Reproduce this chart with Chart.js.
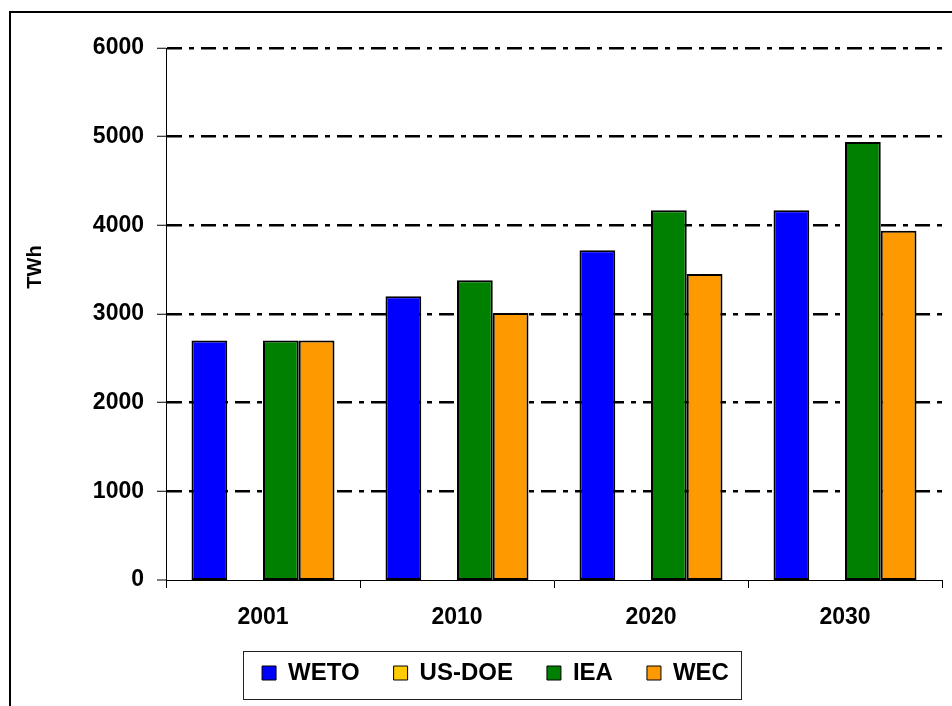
<!DOCTYPE html>
<html>
<head>
<meta charset="utf-8">
<script src="https://cdn.jsdelivr.net/npm/chart.js@4.4.1/dist/chart.umd.min.js"></script>
<style>
  html, body { margin: 0; padding: 0; background: #fff; overflow: hidden; }
  #wrap { position: relative; width: 952px; height: 706px; overflow: hidden; }
  #frame { position: absolute; left: 9px; top: 11px; right: -10px; bottom: -10px; border-left: 2px solid #000; border-top: 2px solid #000; }
  canvas { position: absolute; left: 0; top: 0; }
</style>
</head>
<body>
<div id="wrap">
  <div id="frame"></div>
  <canvas id="chart" width="952" height="706"></canvas>
</div>
<script>
const years = ["2001", "2010", "2020", "2030"];
const weto = [2700, 3200, 3720, 4170];
const usDoe = [null, null, null, null];
const iea = [2700, 3380, 4170, 4940];
const wec = [2700, 3010, 3450, 3940];
const yMax = 6000;
const yStep = 1000;
const yTitle = "TWh";

const FONT = '"Liberation Sans", Arial, sans-serif';

// axis title + box around the legend, drawn after the chart
const extras = {
  id: "extras",
  afterDraw(chart) {
    const ctx = chart.ctx;
    ctx.save();
    ctx.translate(35, 267);
    ctx.rotate(-Math.PI / 2);
    ctx.font = "bold 20px " + FONT;
    ctx.fillStyle = "#000";
    ctx.textAlign = "center";
    ctx.textBaseline = "middle";
    ctx.fillText(yTitle, 0, 0);
    ctx.restore();

    const hb = chart.legend.legendHitBoxes;
    if (!hb || !hb.length) return;
    const first = hb[0], last = hb[hb.length - 1];
    const left = first.left - 19;
    const right = last.left + last.width + 12;
    const top = first.top - 10;
    const bottom = first.top + first.height + 14;
    ctx.save();
    ctx.strokeStyle = "#222";
    ctx.lineWidth = 1;
    ctx.strokeRect(Math.round(left) + 0.5, Math.round(top) + 0.5, Math.round(right - left), Math.round(bottom - top));
    ctx.restore();
  }
};

const barStyle = { borderColor: "#000", borderWidth: 2, borderSkipped: false };

new Chart(document.getElementById("chart"), {
  type: "bar",
  data: {
    labels: years,
    datasets: [
      { label: "WETO", data: weto, backgroundColor: "#0000FF", ...barStyle },
      { label: "US-DOE", data: usDoe, backgroundColor: "#FFCC00", ...barStyle },
      { label: "IEA", data: iea, backgroundColor: "#008000", ...barStyle },
      { label: "WEC", data: wec, backgroundColor: "#FF9900", ...barStyle },
    ],
  },
  options: {
    responsive: false,
    animation: false,
    devicePixelRatio: 1,
    layout: { padding: { left: 49, right: 10, top: 48, bottom: 11 } },
    datasets: { bar: { categoryPercentage: 0.737, barPercentage: 1.0 } },
    plugins: {
      tooltip: { enabled: false },
      title: { display: false },
      legend: {
        position: "bottom",
        labels: {
          color: "#000",
          font: { family: FONT, size: 24, weight: "bold" },
          boxWidth: 14,
          boxHeight: 14,
          padding: 34,
          generateLabels(chart) {
            const items = Chart.defaults.plugins.legend.labels.generateLabels(chart);
            return items.map(it => ({ ...it, lineWidth: 1, strokeStyle: "#000" }));
          },
        },
      },
    },
    scales: {
      x: {
        afterFit(scale) { scale.height = 47; },
        border: { display: true, color: "#000", width: 1 },
        grid: { display: true, drawOnChartArea: false, drawTicks: true, tickLength: 8, color: "#000", lineWidth: 1, offset: true },
        ticks: { color: "#000", padding: 16, font: { family: FONT, size: 23, weight: "bold" } },
      },
      y: {
        min: 0,
        max: yMax,
        afterFit(scale) { scale.width = 117; },
        border: { display: true, color: "#000", width: 1, dash: [15, 7, 5, 7] },
        grid: {
          color: "#000",
          lineWidth: c => (c.tick && c.tick.value === 0 ? 0 : 2.5),
          drawTicks: true,
          tickLength: 9,
          tickColor: "#000",
          tickWidth: 1,
          tickBorderDash: [],
        },
        ticks: {
          stepSize: yStep,
          color: "#000",
          padding: 13,
          font: { family: FONT, size: 23, weight: "bold" },
          callback: v => String(v),
        },
      },
    },
  },
  plugins: [extras],
});
</script>
</body>
</html>
